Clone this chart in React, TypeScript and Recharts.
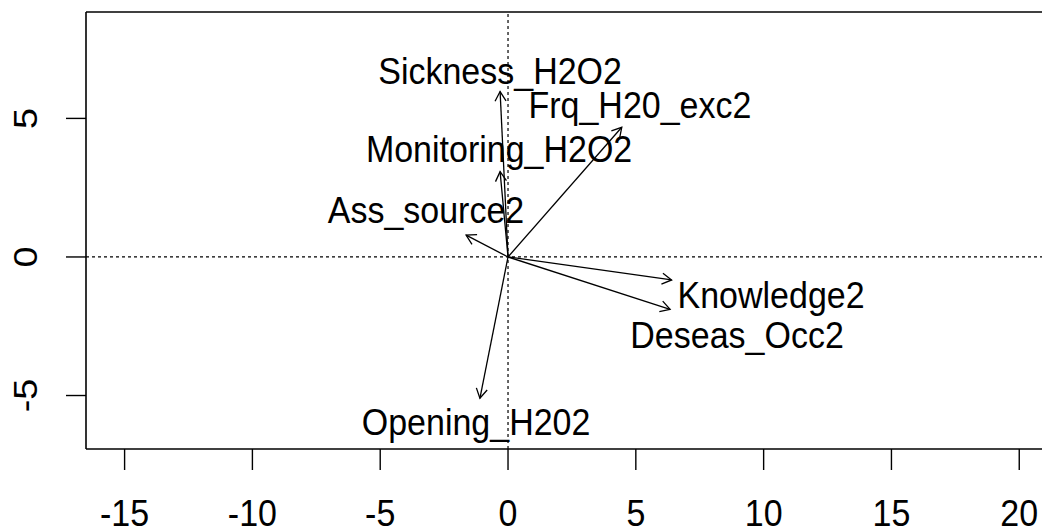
import { ReferenceLine, Scatter, ScatterChart, XAxis, YAxis } from 'recharts';

// biplot loadings
const variables = [
  'Sickness_H2O2',
  'Frq_H20_exc2',
  'Monitoring_H2O2',
  'Ass_source2',
  'Knowledge2',
  'Deseas_Occ2',
  'Opening_H202',
];
const arrowX = [-0.31, 4.45, -0.31, -1.64, 6.4, 6.34, -1.1];
const arrowY = [5.97, 4.68, 3.08, 0.79, -0.83, -1.89, -5.1];
const labelX = [-0.31, 5.16, -0.35, -3.21, 10.29, 8.96, -1.25];
const labelY = [6.73, 5.52, 3.93, 1.7, -1.35, -2.8, -5.95];

const xTicks = [-15, -10, -5, 0, 5, 10, 15, 20];
const yTicks = [-5, 0, 5];
const xDomain = [-16.51, 20.89];
const yDomain = [-6.93, 8.84];

const FONT = '"Liberation Sans", Arial, sans-serif';
const STRETCH = 1.11;

const labelPoints = variables.map((name, i) => ({ name, x: labelX[i], y: labelY[i] }));

function Arrow(props: any) {
  const { x1, y1, x2, y2 } = props;
  const ang = Math.atan2(y2 - y1, x2 - x1);
  const len = 11;
  const a1 = ang + Math.PI - Math.PI / 6;
  const a2 = ang + Math.PI + Math.PI / 6;
  return (
    <g>
      <line x1={x1} y1={y1} x2={x2} y2={y2} stroke="#000" strokeWidth={1.3} />
      <polyline
        points={`${x2 + len * Math.cos(a1)},${y2 + len * Math.sin(a1)} ${x2},${y2} ${x2 + len * Math.cos(a2)},${y2 + len * Math.sin(a2)}`}
        fill="none"
        stroke="#000"
        strokeWidth={1.3}
      />
    </g>
  );
}

function VarLabel(props: any) {
  const { cx, cy, payload } = props;
  return (
    <text
      transform={`translate(${cx},${cy}) scale(1,${STRETCH})`}
      y={12.2}
      textAnchor="middle"
      fontSize={34}
      fontFamily={FONT}
      fill="#000"
    >
      {payload.name}
    </text>
  );
}

function XTick(props: any) {
  const { x, y, payload } = props;
  return (
    <text
      transform={`translate(${x},${y}) scale(1,${STRETCH})`}
      y={50.5}
      textAnchor="middle"
      fontSize={34}
      fontFamily={FONT}
      fill="#000"
    >
      {payload.value}
    </text>
  );
}

function YTick(props: any) {
  const { x, y, payload } = props;
  return (
    <text
      transform={`translate(${x - 29},${y}) scale(1,${STRETCH}) rotate(-90)`}
      textAnchor="middle"
      fontSize={34}
      fontFamily={FONT}
      fill="#000"
    >
      {payload.value}
    </text>
  );
}

export default function App() {
  return (
    <div style={{ position: 'absolute', left: 0, top: 0, background: '#fff' }}>
      <ScatterChart width={1042} height={531} margin={{ top: 12, right: 0, bottom: 0, left: 0 }}>
        <XAxis
          type="number"
          dataKey="x"
          domain={xDomain}
          ticks={xTicks}
          allowDataOverflow
          height={82}
          tickSize={21}
          tickMargin={0}
          axisLine={{ stroke: '#000', strokeWidth: 1.6 }}
          tickLine={{ stroke: '#000', strokeWidth: 1.4 }}
          tick={<XTick />}
        />
        <YAxis
          type="number"
          dataKey="y"
          domain={yDomain}
          ticks={yTicks}
          allowDataOverflow
          width={86}
          tickSize={20}
          tickMargin={0}
          axisLine={{ stroke: '#000', strokeWidth: 1.6 }}
          tickLine={{ stroke: '#000', strokeWidth: 1.4 }}
          tick={<YTick />}
        />
        <ReferenceLine y={yDomain[1]} stroke="#000" strokeWidth={1.6} />
        <ReferenceLine x={0} stroke="#000" strokeWidth={1.2} strokeDasharray="3 3" />
        <ReferenceLine y={0} stroke="#000" strokeWidth={1.2} strokeDasharray="3 3" />
        {variables.map((v, i) => (
          <ReferenceLine
            key={v}
            segment={[
              { x: 0, y: 0 },
              { x: arrowX[i], y: arrowY[i] },
            ]}
            shape={Arrow}
          />
        ))}
        <Scatter data={labelPoints} shape={VarLabel} isAnimationActive={false} />
      </ScatterChart>
    </div>
  );
}
